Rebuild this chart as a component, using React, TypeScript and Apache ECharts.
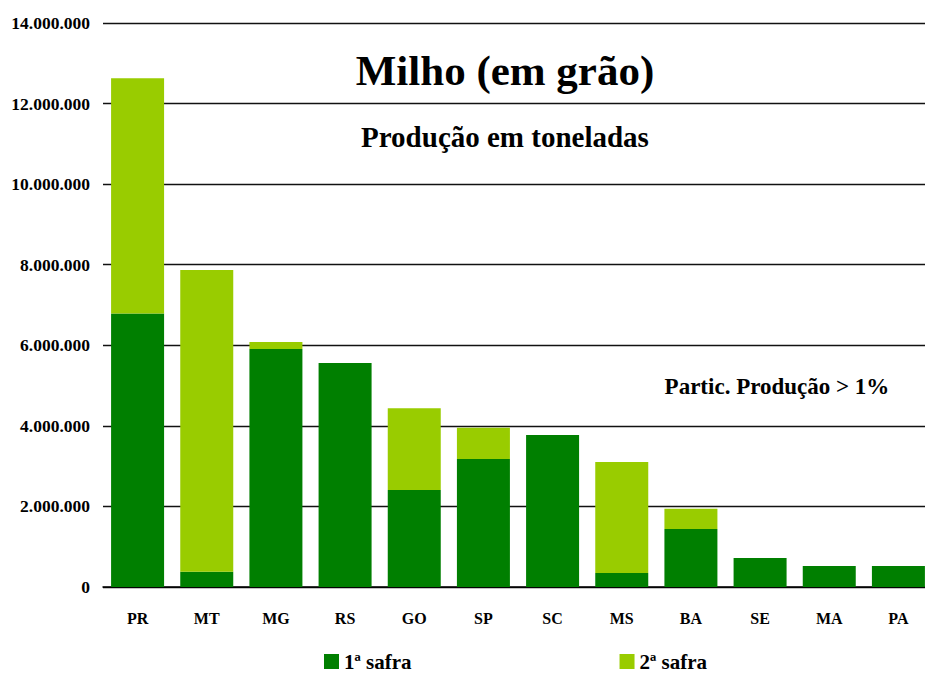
import React, { useEffect, useRef } from "react";
import * as echarts from "echarts";

const categories = ["PR", "MT", "MG", "RS", "GO", "SP", "SC", "MS", "BA", "SE", "MA", "PA"];
const safra1 = [6790000, 380000, 5910000, 5560000, 2410000, 3180000, 3770000, 350000, 1440000, 720000, 520000, 520000];
const safra2 = [5840000, 7490000, 170000, 0, 2030000, 770000, 0, 2750000, 500000, 0, 0, 0];
const yTicks = { min: 0, max: 14000000, interval: 2000000 };
const seriesNames = ["1ª safra", "2ª safra"];

const FONT = "'Liberation Serif', 'Times New Roman', serif";

function fmt(v: number): string {
  return String(Math.round(v)).replace(/\B(?=(\d{3})+(?!\d))/g, ".");
}

export default function App() {
  const ref = useRef<HTMLDivElement>(null);
  useEffect(() => {
    if (!ref.current) return;
    const chart = echarts.init(ref.current, null, { renderer: "svg" });
    chart.setOption({
      animation: false,
      backgroundColor: "#ffffff",
      textStyle: { fontFamily: FONT },
      grid: { left: 103, right: 0, top: 23, bottom: 88 },
      legend: {
        left: 324,
        top: 651,
        padding: 0,
        itemWidth: 15,
        itemHeight: 15,
        itemGap: 208,
        icon: "rect",
        textStyle: { fontFamily: FONT, fontWeight: "bold", fontSize: 21, lineHeight: 18, color: "#000" },
        data: seriesNames,
      },
      graphic: [
        {
          type: "text",
          z: 10,
          style: {
            text: "Milho (em grão)",
            x: 505,
            y: 70,
            align: "center",
            verticalAlign: "middle",
            font: `bold 43px ${FONT}`,
            fill: "#000",
          },
        },
        {
          type: "text",
          z: 10,
          style: {
            text: "Produção em toneladas",
            x: 505,
            y: 137,
            align: "center",
            verticalAlign: "middle",
            font: `bold 29px ${FONT}`,
            fill: "#000",
          },
        },
        {
          type: "text",
          z: 10,
          style: {
            text: "Partic. Produção > 1%",
            x: 777,
            y: 386,
            align: "center",
            verticalAlign: "middle",
            font: `bold 23px ${FONT}`,
            fill: "#000",
          },
        },
      ],
      xAxis: {
        type: "category",
        data: categories,
        axisLine: { show: true, lineStyle: { color: "#000", width: 1.5 } },
        axisTick: { show: false },
        axisLabel: { margin: 23, fontFamily: FONT, fontWeight: "bold", fontSize: 16, color: "#000" },
      },
      yAxis: {
        type: "value",
        min: yTicks.min,
        max: yTicks.max,
        interval: yTicks.interval,
        axisLine: { show: false },
        axisTick: { show: false },
        splitLine: { show: true, lineStyle: { color: "#111", width: 1.3 } },
        axisLabel: {
          margin: 13,
          fontFamily: FONT,
          fontWeight: "bold",
          fontSize: 17.5,
          color: "#000",
          formatter: (v: number) => fmt(v),
        },
      },
      series: [
        {
          name: seriesNames[0],
          type: "bar",
          stack: "total",
          barWidth: 53,
          itemStyle: { color: "#007f00" },
          data: safra1,
        },
        {
          name: seriesNames[1],
          type: "bar",
          stack: "total",
          barWidth: 53,
          itemStyle: { color: "#99cc00" },
          data: safra2,
        },
      ],
    });
    return () => chart.dispose();
  }, []);
  return (
    <div style={{ position: "absolute", left: 0, top: 0, width: 925, height: 675, overflow: "hidden" }}>
      <div ref={ref} style={{ width: 933, height: 675 }} />
    </div>
  );
}
